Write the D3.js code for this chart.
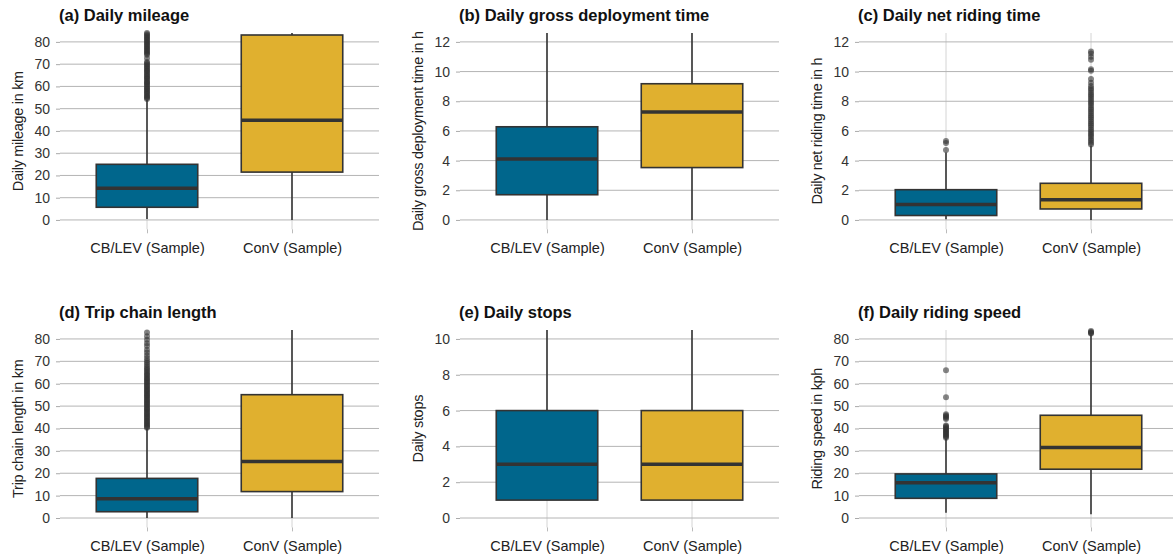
<!DOCTYPE html>
<html>
<head>
<meta charset="utf-8">
<script src="https://d3js.org/d3.v7.min.js"></script>
<style>
  html, body { margin: 0; padding: 0; background: #fff; }
  svg { display: block; font-family: "Liberation Sans", Arial, sans-serif; }
</style>
</head>
<body>
<div id="chart"></div>
<script>
// categories + colours
const categories = ["CB/LEV (Sample)", "ConV (Sample)"];
const fillColors = ["#00668c", "#e0b02f"];

// panel texts
const titles = ["(a) Daily mileage", "(b) Daily gross deployment time", "(c) Daily net riding time",
                "(d) Trip chain length", "(e) Daily stops", "(f) Daily riding speed"];
const yTitles = ["Daily mileage in km", "Daily gross deployment time in h", "Daily net riding time in h",
                 "Trip chain length in km", "Daily stops", "Riding speed in kph"];

// y axis tick labels and upper limits
const ticks80 = [0, 10, 20, 30, 40, 50, 60, 70, 80];
const ticks12 = [0, 2, 4, 6, 8, 10, 12];
const ticks10 = [0, 2, 4, 6, 8, 10];
const yMaxes = [84, 12.6, 12.6, 84, 10.5, 84];

// box stats: [lower whisker, Q1, median, Q3, upper whisker]
const mileageCB = [0.4, 5.7, 14.3, 25.0, 54.0];
const mileageConV = [0, 21.5, 44.8, 83.1, 84.0];
const grossTimeCB = [0, 1.7, 4.1, 6.28, 12.6];
const grossTimeConV = [0, 3.53, 7.27, 9.18, 12.6];
const netTimeCB = [0.05, 0.3, 1.04, 2.04, 4.55];
const netTimeConV = [0, 0.74, 1.37, 2.47, 5.0];
const chainCB = [0, 2.8, 8.6, 17.7, 40.0];
const chainConV = [0, 11.8, 25.3, 55.1, 84.0];
const stopsCB = [1, 1, 3, 6, 10.5];
const stopsConV = [1, 1, 3, 6, 10.5];
const speedCB = [2.3, 8.8, 15.8, 19.7, 35.5];
const speedConV = [1.7, 21.8, 31.5, 45.9, 81.9];

// outliers
const mileageOutCB = [54.3, 54.9, 55.4, 55.8, 56.5, 57.1, 57.5, 58.2, 58.8, 59.2, 59.9, 60.5, 61.1, 61.6, 62.0,
  62.7, 63.4, 63.8, 64.5, 65.0, 65.6, 66.3, 66.9, 67.3, 68.0, 68.6, 69.2, 69.8, 70.4, 71.0, 72.7,
  74.2, 74.8, 75.3, 75.9, 76.5, 77.1, 77.6, 78.3, 78.8, 79.4, 80.0, 80.6, 81.2, 81.7, 82.3, 82.9, 83.4, 84.0];
const netTimeOutCB = [4.72, 5.18, 5.32];
const netTimeOutConV = [5.08, 5.2, 5.33, 5.45, 5.6, 5.72, 5.85, 5.98, 6.1, 6.25, 6.38, 6.5, 6.63, 6.77, 6.9,
  7.03, 7.15, 7.3, 7.42, 7.55, 7.7, 7.83, 7.95, 8.08, 8.22, 8.35, 8.48, 8.6, 8.75, 8.88, 9.02,
  9.25, 9.5, 10.05, 10.15, 10.8, 11.0, 11.22, 11.36];
const chainOutCB = [40.3, 40.8, 41.4, 41.9, 42.5, 43.1, 43.6, 44.2, 44.8, 45.3, 45.9, 46.5, 47.0, 47.6, 48.2,
  48.7, 49.3, 49.9, 50.5, 51.0, 51.6, 52.2, 52.7, 53.3, 53.9, 54.5, 55.0, 55.6, 56.2, 56.8, 57.3,
  57.9, 58.5, 59.1, 59.7, 60.3, 60.9, 61.5, 62.1, 62.7, 63.4, 64.0, 64.7, 65.4, 66.1, 66.8, 67.6,
  68.5, 69.4, 70.3, 71.4, 72.6, 73.9, 75.2, 76.8, 78.1, 79.6, 81.2, 82.9];
const speedOutCB = [35.9, 36.4, 36.9, 37.4, 37.9, 38.4, 38.9, 39.4, 39.9, 40.4, 40.9, 41.3,
  44.2, 44.8, 45.3, 45.8, 46.4, 54.0, 66.0];
const speedOutConV = [82.4, 82.8, 83.1, 83.5];

const panels = [
  { stats: [mileageCB, mileageConV], outliers: [mileageOutCB, []], ticks: ticks80 },
  { stats: [grossTimeCB, grossTimeConV], outliers: [[], []], ticks: ticks12 },
  { stats: [netTimeCB, netTimeConV], outliers: [netTimeOutCB, netTimeOutConV], ticks: ticks12 },
  { stats: [chainCB, chainConV], outliers: [chainOutCB, []], ticks: ticks80 },
  { stats: [stopsCB, stopsConV], outliers: [[], []], ticks: ticks10 },
  { stats: [speedCB, speedConV], outliers: [speedOutCB, speedOutConV], ticks: ticks80 }
];

const width = 1173, height = 556;
const colX = [60, 460, 859];
const panelW = 319;
const rowTop = [33, 330];
const rowBottom = [229.3, 527.4];

const svg = d3.select("#chart").append("svg")
  .attr("width", width)
  .attr("height", height);

panels.forEach((p, i) => {
  const col = i % 3, row = Math.floor(i / 3);
  const x0 = colX[col], x1 = x0 + panelW;
  const top = rowTop[row], bottom = rowBottom[row];
  const yMax = yMaxes[i];

  const x = d3.scalePoint().domain(categories).range([x0, x1]).padding(0.6);
  const y = d3.scaleLinear().domain([-0.05 * yMax, yMax]).range([bottom, top]);
  const boxW = x.step() * 0.7;

  const g = svg.append("g");

  // vertical grid lines
  g.selectAll(".vgrid").data(categories).enter().append("line")
    .attr("x1", d => x(d)).attr("x2", d => x(d))
    .attr("y1", top).attr("y2", bottom)
    .attr("stroke", "#d4d4d4").attr("stroke-width", 1);

  // horizontal grid lines
  g.selectAll(".hgrid").data(p.ticks).enter().append("line")
    .attr("x1", x0).attr("x2", x1)
    .attr("y1", d => y(d)).attr("y2", d => y(d))
    .attr("stroke", "#b4b4b4").attr("stroke-width", 1);

  // y axis
  const yAxis = g.append("g")
    .attr("transform", `translate(${x0},0)`)
    .call(d3.axisLeft(y).tickValues(p.ticks).tickSize(4).tickPadding(6));
  yAxis.select(".domain").remove();
  yAxis.selectAll(".tick line").attr("stroke", "#aaa");
  yAxis.selectAll(".tick text")
    .attr("fill", "#333")
    .style("font-size", "14px")
    .style("font-family", "'Liberation Sans', Arial, sans-serif");

  // x axis
  const xAxis = g.append("g")
    .attr("transform", `translate(0,${bottom})`)
    .call(d3.axisBottom(x).tickSize(4).tickPadding(9));
  xAxis.select(".domain").remove();
  xAxis.selectAll(".tick line").attr("stroke", "#bbb");
  xAxis.selectAll(".tick text")
    .attr("fill", "#222")
    .style("font-size", "14.5px")
    .style("font-family", "'Liberation Sans', Arial, sans-serif");

  // boxes
  p.stats.forEach((s, k) => {
    const cx = x(categories[k]);
    const bg = g.append("g");
    bg.append("line")
      .attr("x1", cx).attr("x2", cx)
      .attr("y1", y(s[0])).attr("y2", y(s[1]))
      .attr("stroke", "#333").attr("stroke-width", 1.6);
    bg.append("line")
      .attr("x1", cx).attr("x2", cx)
      .attr("y1", y(s[3])).attr("y2", y(s[4]))
      .attr("stroke", "#333").attr("stroke-width", 1.6);
    bg.append("rect")
      .attr("x", cx - boxW / 2)
      .attr("y", y(s[3]))
      .attr("width", boxW)
      .attr("height", y(s[1]) - y(s[3]))
      .attr("fill", fillColors[k])
      .attr("stroke", "#333").attr("stroke-width", 1.6);
    bg.append("line")
      .attr("x1", cx - boxW / 2).attr("x2", cx + boxW / 2)
      .attr("y1", y(s[2])).attr("y2", y(s[2]))
      .attr("stroke", "#333").attr("stroke-width", 3.5);

    bg.selectAll("circle").data(p.outliers[k]).enter().append("circle")
      .attr("cx", cx)
      .attr("cy", d => y(d))
      .attr("r", 3)
      .attr("fill", "#333")
      .attr("fill-opacity", 0.6);
  });

  // title
  svg.append("text")
    .attr("x", x0 - 1)
    .attr("y", row === 0 ? 21 : 318)
    .style("font-size", "16.5px")
    .style("font-weight", "bold")
    .attr("fill", "#111")
    .text(titles[i]);

  // y axis title
  svg.append("text")
    .attr("transform", `translate(${x0 - 42},${(top + bottom) / 2}) rotate(-90)`)
    .attr("dy", "0.35em")
    .attr("text-anchor", "middle")
    .style("font-size", "14.5px")
    .style("letter-spacing", "-0.3px")
    .attr("fill", "#222")
    .text(yTitles[i]);
});
</script>
</body>
</html>
